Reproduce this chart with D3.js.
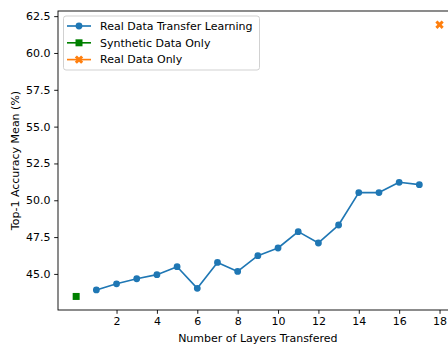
<!DOCTYPE html>
<html>
<head>
<meta charset="utf-8">
<script src="https://cdn.jsdelivr.net/npm/d3@7"></script>
<style>
  html, body { margin: 0; padding: 0; background: #fff; overflow: hidden; }
  svg { display: block; font-family: "DejaVu Sans", sans-serif; }
</style>
</head>
<body>
<svg id="chart" width="448" height="344"></svg>
<script>
// Layers transferred and the resulting mean top-1 accuracy
const layers = [1, 2, 3, 4, 5, 6, 7, 8, 9, 10, 11, 12, 13, 14, 15, 16, 17];
const transferAcc = [43.91, 44.33, 44.67, 44.95, 45.49, 44.02, 45.78, 45.17, 46.24, 46.76,
                     47.87, 47.10, 48.32, 50.52, 50.52, 51.22, 51.06];
const syntheticOnly = [{ x: 0, y: 43.47 }];
const realOnly = [{ x: 18, y: 61.92 }];
const xTicks = [2, 4, 6, 8, 10, 12, 14, 16, 18];
const yTicks = [45.0, 47.5, 50.0, 52.5, 55.0, 57.5, 60.0, 62.5];
const seriesNames = ["Real Data Transfer Learning", "Synthetic Data Only", "Real Data Only"];
const colors = ["#1f77b4", "#008000", "#ff7f0e"];

const svg = d3.select("#chart");
const plotLeft = 58, plotRight = 457.7, plotTop = 11, plotBottom = 310;

const x = d3.scaleLinear().domain([-0.9, 18.9]).range([plotLeft, plotRight]);
const y = d3.scaleLinear().domain([42.55, 62.85]).range([plotBottom, plotTop]);

const fontSize = 11;

// Axes
const xAxis = d3.axisBottom(x).tickValues(xTicks).tickFormat(d3.format("d"))
  .tickSizeInner(3.8).tickSizeOuter(0).tickPadding(3.8);
const yAxis = d3.axisLeft(y).tickValues(yTicks).tickFormat(d3.format(".1f"))
  .tickSizeInner(3.8).tickSizeOuter(0).tickPadding(3.8);

const gx = svg.append("g").attr("transform", `translate(0,${plotBottom})`).call(xAxis);
const gy = svg.append("g").attr("transform", `translate(${plotLeft},0)`).call(yAxis);
[gx, gy].forEach(g => {
  g.select(".domain").remove();
  g.selectAll(".tick line").attr("stroke", "#000").attr("stroke-width", 0.9);
  g.selectAll(".tick text").attr("fill", "#000").style("font-size", fontSize + "px")
    .style("font-family", "DejaVu Sans");
});

// Spines
svg.append("rect").attr("x", plotLeft).attr("y", plotTop)
  .attr("width", plotRight - plotLeft).attr("height", plotBottom - plotTop)
  .attr("fill", "none").attr("stroke", "#000").attr("stroke-width", 0.9);

// Axis labels
svg.append("text").attr("x", (plotLeft + plotRight) / 2).attr("y", 341.5)
  .attr("text-anchor", "middle").style("font-size", fontSize + "px")
  .text("Number of Layers Transfered");
svg.append("text")
  .attr("transform", `translate(19,${(plotTop + plotBottom) / 2}) rotate(-90)`)
  .attr("text-anchor", "middle").style("font-size", fontSize + "px")
  .text("Top-1 Accuracy Mean (%)");

// Marker shapes
const circleSym = d3.symbol().type(d3.symbolCircle).size(Math.PI * 3.4 * 3.4);
const squareSym = d3.symbol().type(d3.symbolSquare).size(7 * 7);
const xSym = d3.symbol().type(d3.symbolCross).size(44);

// Transfer-learning line
const lineData = layers.map((l, i) => ({ x: l, y: transferAcc[i] }));
svg.append("path").datum(lineData)
  .attr("fill", "none").attr("stroke", colors[0]).attr("stroke-width", 1.65)
  .attr("stroke-linejoin", "round")
  .attr("d", d3.line().x(d => x(d.x)).y(d => y(d.y)));
svg.append("g").selectAll("path").data(lineData).join("path")
  .attr("transform", d => `translate(${x(d.x)},${y(d.y)})`)
  .attr("d", circleSym).attr("fill", colors[0]);

// Single-point baselines
svg.append("g").selectAll("path").data(syntheticOnly).join("path")
  .attr("transform", d => `translate(${x(d.x)},${y(d.y)})`)
  .attr("d", squareSym).attr("fill", colors[1]);
svg.append("g").selectAll("path").data(realOnly).join("path")
  .attr("transform", d => `translate(${x(d.x)},${y(d.y)}) rotate(45)`)
  .attr("d", xSym).attr("fill", colors[2]);

// Legend
const legend = svg.append("g");
legend.append("rect").attr("x", 63.5).attr("y", 16).attr("width", 196).attr("height", 54)
  .attr("rx", 2.5).attr("fill", "#fff").attr("fill-opacity", 0.8)
  .attr("stroke", "#ccc").attr("stroke-width", 0.9);
const syms = [circleSym, squareSym, xSym];
seriesNames.forEach((name, i) => {
  const cy = 26 + i * 16.8;
  const row = legend.append("g");
  row.append("line").attr("x1", 67).attr("x2", 91).attr("y1", cy).attr("y2", cy)
    .attr("stroke", colors[i]).attr("stroke-width", 1.65);
  row.append("path").attr("d", syms[i])
    .attr("transform", `translate(79,${cy})` + (i === 2 ? " rotate(45)" : ""))
    .attr("fill", colors[i]);
  row.append("text").attr("x", 100).attr("y", cy).attr("dy", "0.35em")
    .style("font-size", fontSize + "px").text(name);
});
</script>
</body>
</html>
